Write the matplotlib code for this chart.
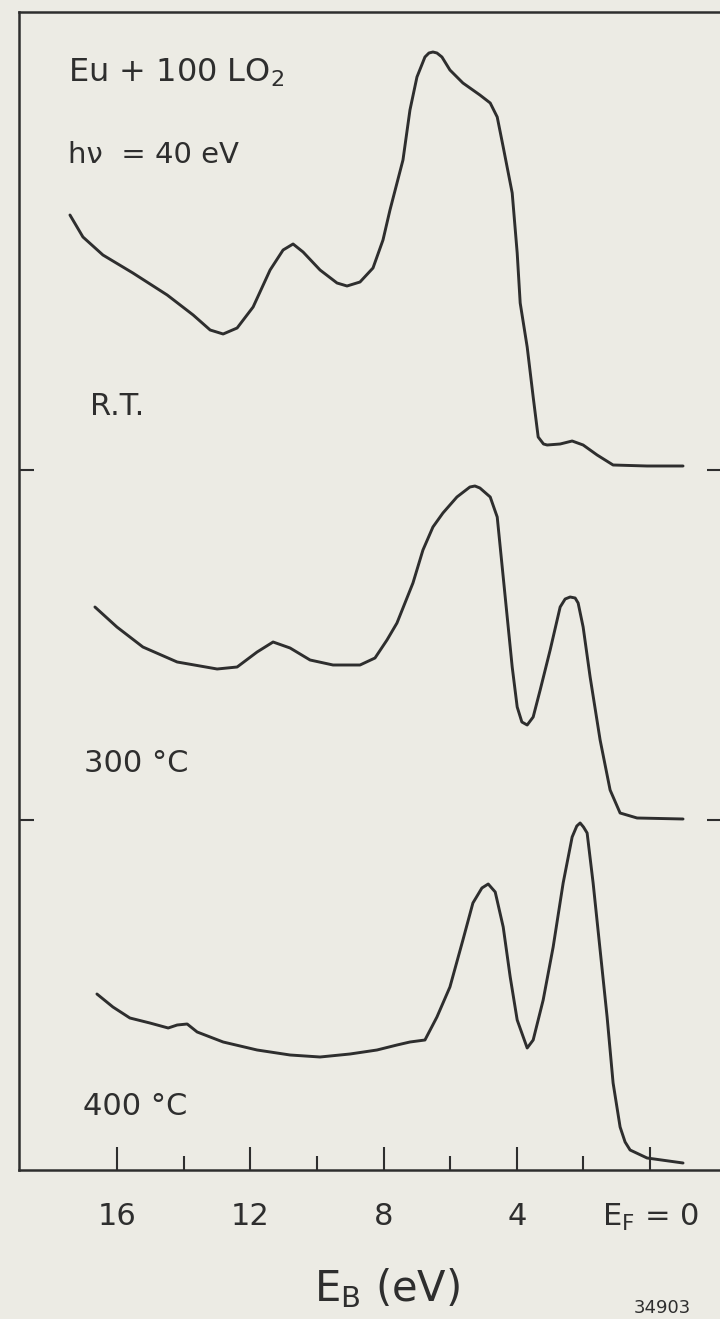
import numpy as np
import matplotlib
matplotlib.use("Agg")
import matplotlib.pyplot as plt

# photoemission spectra of Eu + 100 L O2, hv = 40 eV, binding energy (eV) vs intensity (arb. units)
E_rt = [17.42, 17.03, 16.43, 15.53, 14.50, 13.72, 13.21, 12.82, 12.40, 11.92, 11.41, 11.02,
        10.72, 10.42, 9.91, 9.40, 9.10, 8.71, 8.32, 8.02, 7.81, 7.42, 7.21, 7.00, 6.76, 6.64,
        6.52, 6.40, 6.25, 6.01, 5.62, 5.11, 4.80, 4.59, 4.41, 4.14, 3.99, 3.90, 3.69, 3.51,
        3.36, 3.20, 3.09, 2.70, 2.34, 2.01, 1.59, 1.11, 0.09, -0.99]
I_rt = [2.55, 2.33, 2.15, 1.97, 1.75, 1.55, 1.40, 1.36, 1.42, 1.63, 2.00, 2.20,
        2.26, 2.18, 2.00, 1.87, 1.84, 1.88, 2.02, 2.30, 2.60, 3.10, 3.60, 3.93, 4.13, 4.17,
        4.18, 4.17, 4.13, 4.00, 3.87, 3.75, 3.67, 3.53, 3.23, 2.77, 2.17, 1.67, 1.23, 0.73,
        0.33, 0.26, 0.25, 0.26, 0.29, 0.25, 0.15, 0.05, 0.04, 0.04]

E_300 = [16.67, 16.01, 15.23, 14.20, 13.00, 12.40, 11.80, 11.32, 10.81, 10.21, 9.52, 8.71,
         8.26, 7.90, 7.60, 7.12, 6.82, 6.52, 6.22, 5.80, 5.41, 5.26, 5.11, 4.80, 4.59, 4.44,
         4.29, 4.14, 3.99, 3.85, 3.69, 3.51, 3.30, 3.00, 2.70, 2.55, 2.40, 2.25, 2.16, 2.01,
         1.80, 1.50, 1.20, 0.90, 0.39, -0.99]
I_300 = [2.13, 1.93, 1.73, 1.58, 1.51, 1.53, 1.68, 1.78, 1.72, 1.60, 1.55, 1.55,
         1.62, 1.80, 1.97, 2.37, 2.70, 2.93, 3.07, 3.23, 3.33, 3.34, 3.32, 3.23, 3.03, 2.53,
         2.03, 1.53, 1.13, 0.98, 0.95, 1.03, 1.30, 1.70, 2.13, 2.21, 2.23, 2.22, 2.17, 1.93,
         1.43, 0.80, 0.30, 0.07, 0.02, 0.01]

E_400 = [16.61, 16.13, 15.62, 15.02, 14.47, 14.20, 13.90, 13.60, 12.82, 11.80, 10.81, 9.91,
         9.01, 8.20, 7.60, 7.21, 6.76, 6.40, 6.01, 5.62, 5.32, 5.05, 4.86, 4.65, 4.41, 4.20,
         3.99, 3.69, 3.51, 3.21, 2.91, 2.61, 2.34, 2.20, 2.10, 2.00, 1.89, 1.71, 1.50, 1.29,
         1.11, 0.90, 0.75, 0.60, 0.09, -0.99]
I_400 = [1.76, 1.63, 1.52, 1.47, 1.42, 1.45, 1.46, 1.38, 1.28, 1.20, 1.15, 1.13,
         1.16, 1.20, 1.25, 1.28, 1.30, 1.53, 1.83, 2.30, 2.67, 2.82, 2.86, 2.78, 2.43, 1.93,
         1.50, 1.22, 1.30, 1.70, 2.23, 2.87, 3.33, 3.44, 3.47, 3.43, 3.37, 2.87, 2.20, 1.53,
         0.87, 0.43, 0.28, 0.20, 0.12, 0.07]

labels = ["R.T.", "300 °C", "400 °C"]
offsets = [7.0, 3.5, 0.0]
major_ticks = [16, 12, 8, 4, 0]
major_labels = ["16", "12", "8", "4", r"E$_\mathregular{F}$ = 0"]
minor_ticks = [14, 10, 6, 2]

BG = "#ecebe4"
INK = "#2e2e2e"

plt.rcParams.update({"font.family": ["DejaVu Sans"], "font.size": 22,
                     "text.color": INK, "axes.edgecolor": INK, "axes.labelcolor": INK,
                     "xtick.color": INK, "ytick.color": INK})

fig = plt.figure(figsize=(7.2, 13.19), dpi=100, facecolor=BG)
ax = fig.add_axes([19 / 720, 149 / 1319, 703 / 720, 1158 / 1319])
ax.set_facecolor(BG)

curves = [(E_rt, I_rt), (E_300, I_300), (E_400, I_400)]
for (e, i), off in zip(curves, offsets):
    ax.plot(e, np.array(i) + off, color=INK, lw=2.1,
            solid_joinstyle="round", solid_capstyle="round")

ax.set_xlim(18.95, -2.16)
ax.set_ylim(0, 11.58)

ax.set_xticks(major_ticks)
ax.set_xticklabels(major_labels)
ax.set_xticks(minor_ticks, minor=True)
ax.tick_params(axis="x", which="major", direction="in", length=16.5, width=1.5,
               pad=23, labelsize=22)
ax.tick_params(axis="x", which="minor", direction="in", length=10, width=1.5)
ax.set_yticks(offsets[:2])
ax.tick_params(axis="y", direction="in", length=11, width=1.5,
               left=True, right=True, labelleft=False)
for s in ax.spines.values():
    s.set_linewidth(1.8)

ax.set_xlabel(r"E$_\mathregular{B}$ (eV)", fontsize=30)
ax.xaxis.set_label_coords(0.523, -0.083)

ax.text(17.48, 10.88, "Eu + 100 LO$_\\mathregular{2}$", fontsize=23, va="baseline")
ax.text(17.48, 10.07, "h\u03bd  = 40 eV", fontsize=21, va="baseline")
ax.text(16.82, 7.55, labels[0], fontsize=22, va="baseline")
ax.text(17.0, 3.98, labels[1], fontsize=22, va="baseline")
ax.text(17.03, 0.55, labels[2], fontsize=22, va="baseline")

fig.text(634 / 720, 2 / 1319, "34903", fontsize=13, va="bottom", color=INK)

fig.savefig("out.png", dpi=100, facecolor=BG)
